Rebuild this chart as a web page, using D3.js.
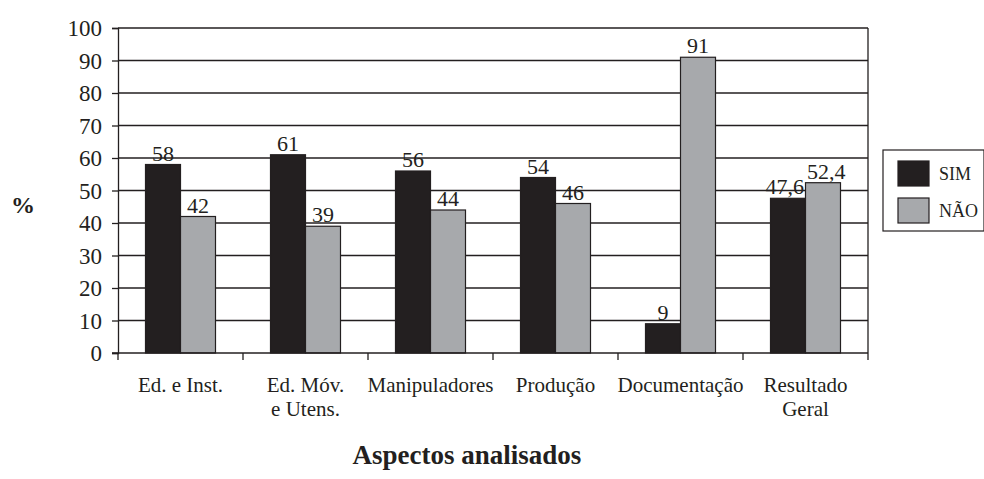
<!DOCTYPE html>
<html><head><meta charset="utf-8">
<script src="https://cdn.jsdelivr.net/npm/d3@7"></script>
<style>body{margin:0;background:#fff}</style>
</head><body>
<svg id="c" width="984" height="479"></svg>
<script>
const categories = [["Ed. e Inst."],["Ed. Móv.","e Utens."],["Manipuladores"],["Produção"],["Documentação"],["Resultado","Geral"]];
const simValues = [58,61,56,54,9,47.6];
const naoValues = [42,39,44,46,91,52.4];
const seriesNames = ["SIM","NÃO"];
const yTicks = [0,10,20,30,40,50,60,70,80,90,100];
const colors = ["#231f20","#a7a9ac"];
const font = "Liberation Serif";

const svg = d3.select("#c");
const L=118,R=868,T=28,B=353;
const x = d3.scaleBand().domain(d3.range(categories.length)).range([L,R]).paddingInner(0.44).paddingOuter(0.22);
const xs = d3.scaleBand().domain([0,1]).range([0,x.bandwidth()]);
const y = d3.scaleLinear().domain([0,100]).range([B,T]);

// gridlines
svg.append("g").selectAll("line").data(yTicks.filter(d=>d>0)).join("line")
 .attr("x1",L).attr("x2",R).attr("y1",d=>y(d)).attr("y2",d=>y(d))
 .attr("stroke","#231f20").attr("stroke-width",1.3);
// right border
svg.append("line").attr("x1",R).attr("x2",R).attr("y1",T).attr("y2",B).attr("stroke","#231f20").attr("stroke-width",1.3);

// bars
const data = categories.map((c,i)=>[simValues[i],naoValues[i]]);
const g = svg.append("g").selectAll("g").data(data).join("g").attr("transform",(d,i)=>`translate(${x(i)},0)`);
g.selectAll("rect").data(d=>d).join("rect")
 .attr("x",(d,j)=>xs(j)).attr("width",xs.bandwidth()).attr("y",d=>y(d)).attr("height",d=>B-y(d))
 .attr("fill",(d,j)=>colors[j]).attr("stroke","#231f20").attr("stroke-width",1.2);
g.selectAll("text").data(d=>d).join("text")
 .attr("x",(d,j)=>xs(j)+xs.bandwidth()/2).attr("y",d=>y(d)-4)
 .attr("text-anchor","middle").attr("font-family",font).attr("font-size",22).attr("fill","#231f20")
 .text(d=>String(d).replace(".",","));
// push apart labels that would collide
g.each(function(){
  const t = d3.select(this).selectAll("text").nodes();
  const w0 = t[0].getComputedTextLength(), w1 = t[1].getComputedTextLength();
  const excess = w0/2 + w1/2 + 3 - xs.bandwidth();
  if (excess > 0) {
    t[0].setAttribute("x", +t[0].getAttribute("x") - excess/2);
    t[1].setAttribute("x", +t[1].getAttribute("x") + excess/2);
  }
});

// y axis
const yAxis = d3.axisLeft(y).tickValues(yTicks).tickSize(6).tickPadding(10);
const ya = svg.append("g").attr("transform",`translate(${L},0)`).call(yAxis);
ya.select(".domain").attr("stroke","#231f20").attr("stroke-width",1.3);
ya.selectAll(".tick line").attr("stroke","#231f20").attr("stroke-width",1.3);
ya.selectAll(".tick text").attr("font-family",font).attr("font-size",23).attr("fill","#231f20").attr("dy","0.34em");

// x axis
const xb = d3.scaleLinear().domain([0,categories.length]).range([L,R]);
const xa = svg.append("g").attr("transform",`translate(0,${B})`);
xa.append("line").attr("x1",L-6).attr("x2",R).attr("y1",0).attr("y2",0).attr("stroke","#231f20").attr("stroke-width",1.3);
xa.selectAll("line.t").data(d3.range(categories.length+1)).join("line").attr("class","t")
 .attr("x1",d=>xb(d)).attr("x2",d=>xb(d)).attr("y1",0).attr("y2",7).attr("stroke","#231f20").attr("stroke-width",1.3);
const xl = xa.selectAll("text").data(categories).join("text")
 .attr("x",(d,i)=>x(i)+x.bandwidth()/2).attr("y",39)
 .attr("text-anchor","middle").attr("font-family",font).attr("font-size",21).attr("fill","#231f20");
xl.selectAll("tspan").data(d=>d).join("tspan")
 .attr("x",function(){return this.parentNode.getAttribute("x");}).attr("dy",(d,k)=>k===0?0:24).text(d=>d);

// axis titles
svg.append("text").attr("x",23).attr("y",213).attr("text-anchor","middle").attr("font-family",font)
 .attr("font-size",24).attr("font-weight","bold").attr("fill","#231f20").text("%");
svg.append("text").attr("x",467).attr("y",464).attr("text-anchor","middle").attr("font-family",font)
 .attr("font-size",27).attr("font-weight","bold").attr("fill","#231f20").text("Aspectos analisados");

// legend
const lg = svg.append("g");
lg.append("rect").attr("x",883).attr("y",150).attr("width",101).attr("height",81).attr("fill","#fff").attr("stroke","#231f20").attr("stroke-width",1.2);
const li = lg.selectAll("g").data(seriesNames).join("g").attr("transform",(d,i)=>`translate(898,${161+i*37})`);
li.append("rect").attr("width",31).attr("height",25).attr("fill",(d,i)=>colors[i]).attr("stroke","#231f20").attr("stroke-width",1.2);
li.append("text").attr("x",41).attr("y",19).attr("font-family",font).attr("font-size",18).attr("fill","#231f20").text(d=>d);
</script>
</body></html>
